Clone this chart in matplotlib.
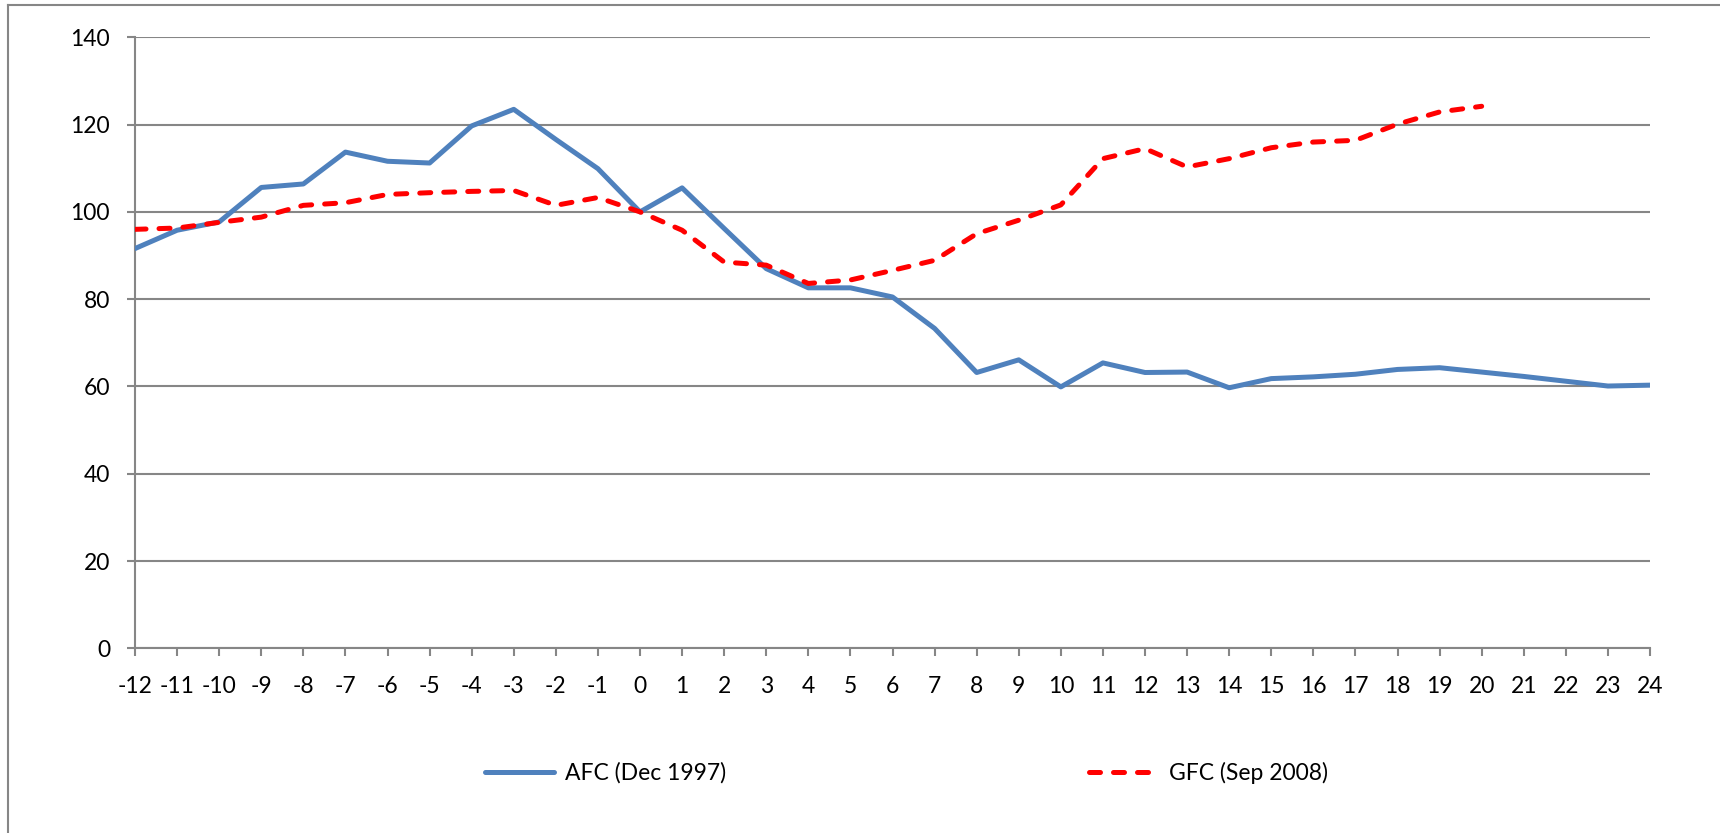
import matplotlib
matplotlib.use('Agg')
import matplotlib.pyplot as plt
from matplotlib.lines import Line2D

# months relative to crisis start
months = list(range(-12, 25))

afc = [91.6, 95.8, 97.7, 105.6, 106.4, 113.7, 111.6, 111.2, 119.7, 123.5,
       116.6, 109.9, 100.0, 105.5, 96.2, 87.0, 82.6, 82.6, 80.5, 73.3,
       63.2, 66.1, 59.9, 65.4, 63.2, 63.3, 59.7, 61.8, 62.2, 62.8,
       63.9, 64.3, 63.3, 62.3, 61.2, 60.1, 60.3]

gfc_months = list(range(-12, 21))
gfc = [96.0, 96.3, 97.6, 98.8, 101.5, 102.1, 104.0, 104.4, 104.7, 104.9,
       101.5, 103.3, 100.0, 95.8, 88.5, 87.8, 83.6, 84.4, 86.6, 88.9,
       95.0, 98.1, 101.6, 112.2, 114.5, 110.3, 112.2, 114.7, 116.0, 116.4,
       120.1, 122.9, 124.2]

plt.rcParams['font.family'] = ['Lato', 'DejaVu Sans']
plt.rcParams['axes.unicode_minus'] = False

fig = plt.figure(figsize=(17.2, 8.33), dpi=100)
ax = fig.add_axes([0.0785, 0.2217, 0.8808, 0.7335])

grid_col = '#868686'

ax.plot(months, afc, color='#4F81BD', lw=3.6, solid_joinstyle='round',
        solid_capstyle='round', label='AFC (Dec 1997)', zorder=3)
ax.plot(gfc_months, gfc, color='#FF0000', lw=3.6, dashes=(2.2, 2.6),
        dash_capstyle='round', dash_joinstyle='round',
        label='GFC (Sep 2008)', zorder=4)

ax.set_xlim(-12, 24)
ax.set_ylim(0, 140)
ax.set_xticks(months)
ax.set_yticks(range(0, 141, 20))
ax.yaxis.grid(True, color=grid_col, lw=1.5)
ax.set_axisbelow(True)

for s in ['top', 'right']:
    ax.spines[s].set_visible(False)
for s in ['left', 'bottom']:
    ax.spines[s].set_color(grid_col)
    ax.spines[s].set_linewidth(1.5)

ax.tick_params(axis='both', colors=grid_col, labelcolor='black',
               labelsize=16.5, width=1.5, length=6)
ax.tick_params(axis='x', pad=14)
ax.tick_params(axis='y', pad=12)

# outer chart border (left and top edges visible)
fig.add_artist(Line2D([8 / 1720, 8 / 1720], [0, 1 - 5 / 833],
                      transform=fig.transFigure, color=grid_col, lw=1.5))
fig.add_artist(Line2D([8 / 1720, 1], [1 - 5 / 833, 1 - 5 / 833],
                      transform=fig.transFigure, color=grid_col, lw=1.5))

fig.legend(loc='center', bbox_to_anchor=(0.527, 0.072), ncol=2,
           frameon=False, fontsize=16.5, handlelength=3.0,
           columnspacing=15.8, handletextpad=0.5)

fig.savefig('out.png', dpi=100)
